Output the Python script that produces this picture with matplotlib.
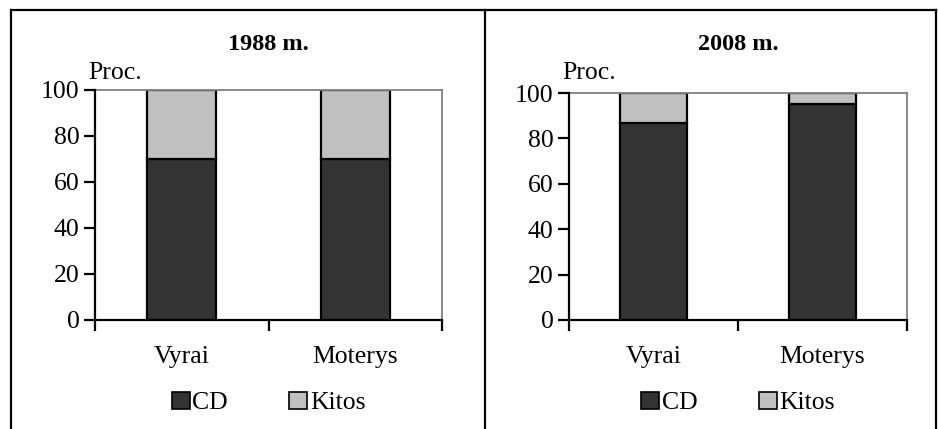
import matplotlib
matplotlib.use("Agg")
import matplotlib.pyplot as plt
from matplotlib.patches import Patch
from matplotlib.lines import Line2D

plt.rcParams["font.family"] = ["Liberation Serif", "DejaVu Serif"]

groups = ["Vyrai", "Moterys"]
years = ["1988 m.", "2008 m."]
cd_1988 = [70, 70]
cd_2008 = [87, 95]
kitos_1988 = [30, 30]
kitos_2008 = [13, 5]
series_names = ["CD", "Kitos"]
DARK, LIGHT = "#333333", "#c0c0c0"
FS = 18.5
FS_TITLE = 17.5

fig = plt.figure(figsize=(9.38, 4.29), dpi=100)
W, H = 938, 429

def fx(px): return px / W
def fy(py): return 1 - py / H

# panel frames
for xs, ys in [([11, 11], [10, 429]), ([11, 936], [10, 10]),
               ([485, 485], [10, 429]), ([936, 936], [10, 429])]:
    fig.add_artist(Line2D([fx(x) for x in xs], [fy(y) for y in ys],
                          color="black", lw=1.6))

panels = [
    (years[0], cd_1988, kitos_1988, (95, 442, 90, 320)),
    (years[1], cd_2008, kitos_2008, (569, 907, 93, 320)),
]
for title, cd, kitos, (x0, x1, y0, y1) in panels:
    ax = fig.add_axes([fx(x0), fy(y1), fx(x1 - x0), (y1 - y0) / H])
    pos = [0.5, 1.5]
    ax.bar(pos, cd, width=0.4, color=DARK, edgecolor="black", lw=1.6)
    ax.bar(pos, kitos, bottom=cd, width=0.4, color=LIGHT, edgecolor="black", lw=1.6)
    ax.set_xlim(0, 2); ax.set_ylim(0, 100)
    ax.set_yticks(range(0, 101, 20))
    ax.set_xticks([0, 1, 2]); ax.set_xticklabels([])
    ax.set_xticks(pos, minor=True)
    ax.set_xticklabels(groups, minor=True, fontsize=FS)
    ax.tick_params(axis="x", which="minor", length=0, pad=19)
    ax.tick_params(axis="x", which="major", length=8, width=1.6, direction="out")
    ax.tick_params(axis="y", length=8, width=1.6, labelsize=FS, pad=3)
    for s in ["left", "bottom"]:
        ax.spines[s].set_linewidth(1.6); ax.spines[s].set_color("black")
    for s in ["top", "right"]:
        ax.spines[s].set_linewidth(1.3); ax.spines[s].set_color("#808080")
    ax.spines["left"].set_zorder(5)
    xc = (x0 + x1) / 2
    fig.text(fx(xc), fy(44), title, ha="center", va="center",
             fontsize=FS_TITLE, fontweight="bold")
    fig.text(fx(x0 - 7), fy(79), "Proc.", ha="left", va="baseline", fontsize=FS)
    handles = [Patch(facecolor=DARK, edgecolor="black", lw=1.2),
               Patch(facecolor=LIGHT, edgecolor="black", lw=1.2)]
    fig.legend(handles, series_names, loc="center", bbox_to_anchor=(fx(xc), fy(403)),
               ncol=2, frameon=False, fontsize=FS, handlelength=0.7,
               handleheight=0.7, handletextpad=0.1, columnspacing=2.4)

fig.savefig("out.png", dpi=100)
